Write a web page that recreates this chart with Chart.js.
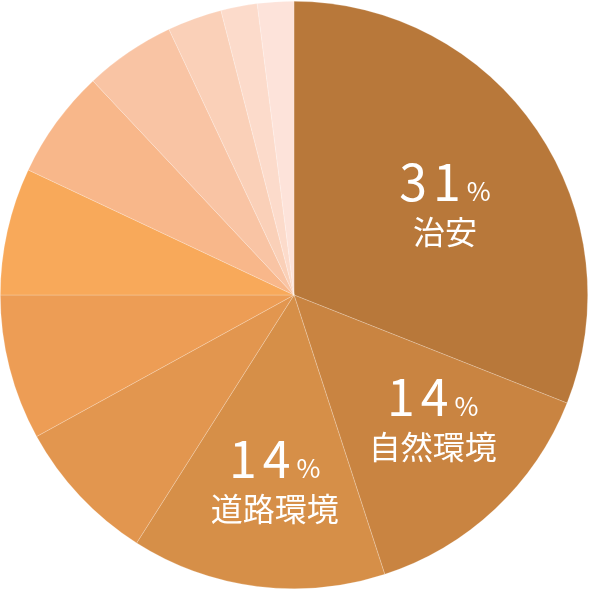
<!DOCTYPE html>
<html lang="ja">
<head>
<meta charset="utf-8">
<script src="https://cdn.jsdelivr.net/npm/chart.js@4/dist/chart.umd.min.js"></script>
<style>
  html, body { margin: 0; padding: 0; background: #fff; }
  #wrap { width: 592px; height: 592px; }
</style>
</head>
<body>
<div id="wrap"><canvas id="grafico"></canvas></div>
<script>
/* =========================
   DATOS
========================= */

const categorias = ["治安", "自然環境", "道路環境", "", "", "", "", "", "", "", ""];
const porcentajes = [31, 14, 14, 8, 8, 7, 6, 5, 3, 2, 2];
const colores = [
  "#b8783a", "#c98441", "#d68f48", "#e2964f", "#ed9d55",
  "#f8a95a", "#f8b78a", "#f9c4a4", "#fad0b8", "#fcdbcb", "#fde3da"
];
// solo los tres primeros llevan rótulo
const rotulados = [0, 1, 2];
// pequeño ajuste (px) del rótulo respecto al punto medio del sector
const ajusteRotulo = [[-2, 16], [12, -8], [4, 5]];

/* =========================
   PLUGIN ROTULOS
========================= */

const FUENTE = "'Noto Sans CJK JP', 'Noto Sans', sans-serif";

const rotulosPlugin = {
  id: "rotulos",
  afterDatasetsDraw(chart) {
    const ctx = chart.ctx;
    const meta = chart.getDatasetMeta(0);

    rotulados.forEach((i, k) => {
      const arc = meta.data[i];
      const p = arc.getProps(["x", "y", "startAngle", "endAngle", "outerRadius"], true);
      const mid = (p.startAngle + p.endAngle) / 2;
      const r = p.outerRadius * 0.63;
      const cx = p.x + Math.cos(mid) * r + ajusteRotulo[k][0];
      const cy = p.y + Math.sin(mid) * r + ajusteRotulo[k][1];

      const num = String(porcentajes[i]);
      ctx.save();
      ctx.fillStyle = "#fff";
      ctx.textBaseline = "alphabetic";
      ctx.textAlign = "left";

      ctx.font = "400 50px " + FUENTE;
      ctx.letterSpacing = "6px";
      const wNum = ctx.measureText(num).width;
      ctx.font = "400 26px " + FUENTE;
      ctx.letterSpacing = "0px";
      const wPct = ctx.measureText("%").width;

      const x0 = cx - (wNum + wPct) / 2;
      const base = cy - 6;
      ctx.font = "400 50px " + FUENTE;
      ctx.letterSpacing = "6px";
      ctx.fillText(num, x0, base);
      ctx.font = "400 26px " + FUENTE;
      ctx.letterSpacing = "0px";
      ctx.fillText("%", x0 + wNum, base);

      ctx.textAlign = "center";
      ctx.textBaseline = "middle";
      ctx.font = "400 32px " + FUENTE;
      ctx.fillText(categorias[i], cx, cy + 25);
      ctx.restore();
    });
  }
};

/* =========================
   GRAFICO
========================= */

new Chart(document.getElementById("grafico"), {
  type: "pie",
  data: {
    labels: categorias,
    datasets: [{
      data: porcentajes,
      backgroundColor: colores,
      borderColor: "rgba(255,255,255,0.35)",
      borderWidth: 0.6
    }]
  },
  options: {
    responsive: true,
    maintainAspectRatio: false,
    animation: false,
    layout: { padding: { left: 0, right: 4, top: 1, bottom: 3 } },
    plugins: {
      legend: { display: false },
      tooltip: { enabled: false }
    }
  },
  plugins: [rotulosPlugin]
});
</script>
</body>
</html>
